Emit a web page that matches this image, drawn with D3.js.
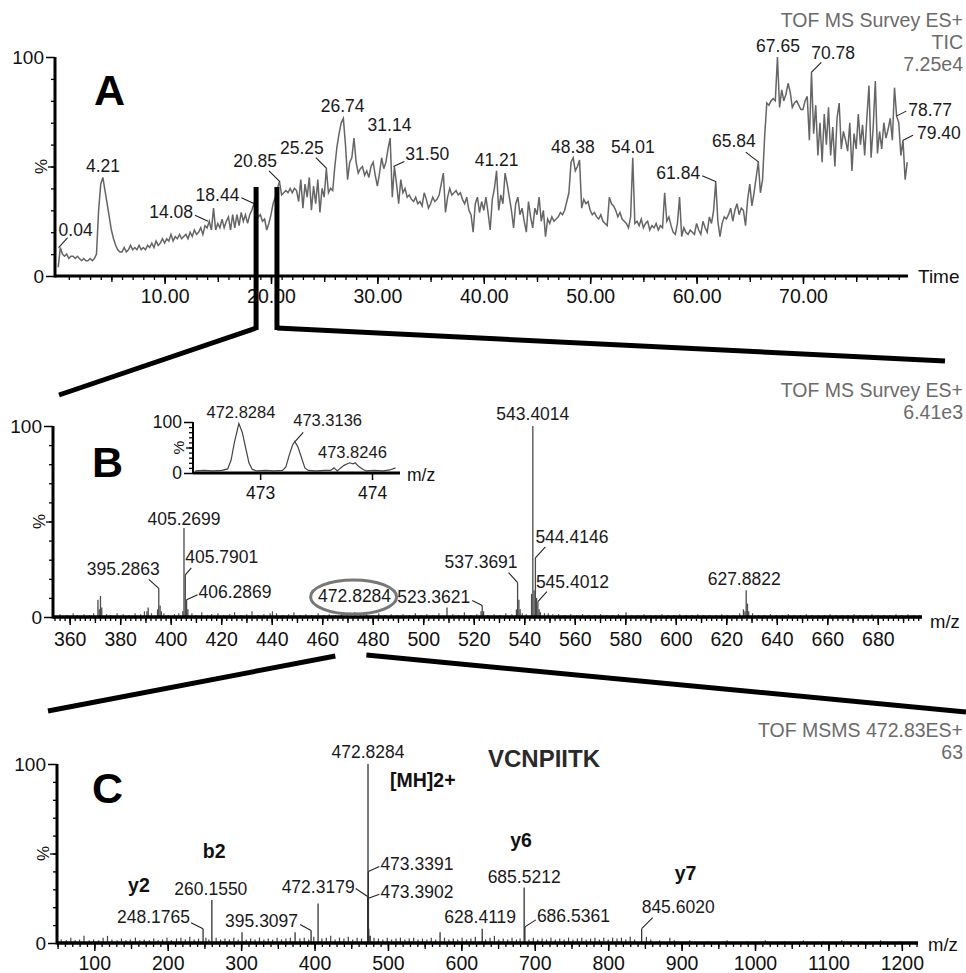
<!DOCTYPE html>
<html>
<head>
<meta charset="utf-8">
<script src="https://cdn.jsdelivr.net/npm/d3@7"></script>
<style>
  body { margin: 0; background: #fff; }
  svg text { font-family: "Liberation Sans", Arial, sans-serif; }
</style>
</head>
<body>
<div id="chart"></div>
<script>
const width = 966;
const height = 973;
const font = "Liberation Sans, Arial, sans-serif";

// ---------- panel A : TIC, one value every 0.2 min from 0 ----------
const ticStep = 0.2;
const tic = [
  4, 13, 10, 9, 10, 8, 9, 9, 8, 9,
  8, 7, 8, 7, 7, 8, 7, 8, 10, 30,
  42, 45, 39, 33, 27, 21, 17, 14, 12, 11,
  11, 13, 11, 12, 14, 12, 13, 12, 14, 12,
  13, 12, 14, 13, 15, 13, 16, 14, 15, 17,
  15, 17, 16, 19, 16, 18, 17, 19, 17, 18,
  19, 17, 20, 18, 21, 19, 20, 22, 19, 23,
  22, 25, 21, 31, 21, 24, 22, 26, 22, 25,
  27, 21, 28, 22, 28, 23, 29, 25, 28, 24,
  28, 30, 33, 29, 27, 28, 25, 26, 21, 24,
  28, 33, 36, 40, 43, 37, 38, 39, 38, 40,
  38, 40, 39, 34, 44, 31, 42, 36, 45, 30,
  41, 33, 44, 29, 40, 36, 49, 38, 40, 39,
  50, 59, 65, 70, 72, 60, 44, 52, 54, 63,
  52, 47, 49, 50, 46, 48, 45, 50, 52, 46,
  41, 47, 54, 49, 52, 58, 63, 36, 50, 42,
  33, 44, 38, 40, 36, 37, 35, 34, 36, 33,
  34, 32, 38, 35, 31, 33, 36, 34, 35, 37,
  42, 47, 29, 36, 40, 37, 38, 39, 37, 38,
  35, 33, 36, 30, 28, 20, 33, 36, 29, 34,
  30, 36, 29, 21, 35, 40, 48, 30, 37, 33,
  47, 42, 36, 30, 22, 33, 36, 28, 31, 25,
  20, 34, 27, 22, 31, 28, 36, 25, 30, 18,
  26, 24, 27, 25, 26, 27, 29, 28, 30, 34,
  38, 52, 54, 48, 50, 53, 31, 35, 33, 34,
  30, 28, 29, 27, 26, 28, 25, 24, 23, 36,
  33, 32, 30, 27, 29, 26, 25, 24, 22, 27,
  54, 24, 25, 23, 26, 22, 24, 25, 21, 23,
  22, 24, 21, 23, 22, 38, 25, 27, 23, 20,
  19, 24, 36, 18, 22, 20, 19, 21, 20, 19,
  24, 21, 19, 25, 22, 20, 27, 24, 30, 43,
  25, 18, 24, 27, 26, 28, 31, 25, 30, 33,
  28, 31, 30, 23, 35, 42, 32, 38, 45, 52,
  38, 44, 64, 79, 78, 80, 81, 80, 100, 77,
  85, 80, 83, 88, 84, 77, 79, 80, 78, 76,
  76, 80, 82, 62, 93, 65, 78, 55, 70, 52,
  74, 60, 77, 55, 68, 50, 72, 79, 58, 66,
  62, 57, 70, 48, 65, 58, 74, 60, 69, 55,
  72, 87, 54, 68, 89, 56, 66, 58, 70, 63,
  67, 72, 62, 86, 73, 70, 55, 62, 44, 52
];
const labelsA = ["0.04", "4.21", "14.08", "18.44", "20.85", "25.25", "26.74", "31.14", "31.50",
  "41.21", "48.38", "54.01", "61.84", "65.84", "67.65", "70.78", "78.77", "79.40"];
const labelHeightsA = [13, 45, 25, 33, 43, 49, 72, 63, 50, 48, 54, 54, 43, 52, 100, 93, 73, 62];
const timeTicks = [10, 20, 30, 40, 50, 60, 70];
const headerA = ["TOF MS Survey ES+", "TIC", "7.25e4"];

// ---------- panel B : survey scan ----------
const peaksB = [
  [371.2, 9], [371.7, 4], [372.2, 11], [372.7, 5], [390.6, 3], [391.1, 5],
  [394.8, 4], [395.2863, 15], [395.8, 6], [396.3, 3],
  [404.8, 3], [405.2699, 46.6], [405.7901, 22], [406.2869, 9], [406.8, 4],
  [472.8284, 2.5], [473.3, 1.5], [509.4, 5], [522.9, 3], [523.3621, 6], [523.9, 3],
  [536.9, 4], [537.3691, 18], [537.87, 9], [538.37, 4],
  [542.9, 12], [543.4014, 100], [543.9, 14], [544.4146, 31], [544.9, 10], [545.4012, 8], [545.9, 4], [546.4, 2.5],
  [626.8, 4], [627.4, 3], [627.8822, 14], [628.38, 7], [628.88, 3]
];
const noiseB = [
  [356.2, 1.5], [358.9, 1], [361.4, 2], [363.0, 1], [365.7, 1.5], [367.9, 1], [369.5, 2], [374.6, 1.5],
  [376.3, 1], [378.8, 2], [381.2, 1.5], [383.5, 1], [385.9, 2], [388.1, 1.5], [389.6, 3], [392.4, 2],
  [397.3, 2], [399.0, 1], [401.5, 1.5], [403.2, 2], [408.4, 2], [410.1, 1], [412.3, 2.5], [414.6, 1],
  [416.2, 1.5], [418.7, 2], [421.0, 1], [423.4, 1.5], [425.3, 2.5], [427.8, 1], [430.1, 1.5], [432.2, 3],
  [434.6, 1], [436.9, 1.5], [439.4, 2], [440.3, 3], [441.9, 2], [444.5, 1], [446.7, 1.5], [448.8, 2.5],
  [451.2, 1], [453.5, 1.5], [455.9, 1], [458.4, 2], [460.7, 1], [462.8, 1.5], [465.3, 1], [467.6, 2],
  [469.9, 1], [471.3, 1.5], [475.2, 1], [477.6, 1.5], [480.1, 1], [482.4, 2], [484.9, 1], [487.3, 1.5],
  [489.6, 1], [492.0, 1.5], [494.5, 1], [496.9, 2], [499.2, 1], [501.4, 1.5], [503.8, 1], [506.2, 2],
  [511.7, 1.5], [514.0, 1], [516.3, 2.5], [518.9, 1], [521.2, 1.5], [525.6, 1], [528.0, 1.5], [530.4, 1],
  [532.7, 2], [535.1, 1.5], [539.2, 2], [540.8, 1.5], [548.0, 2], [549.5, 2], [551.3, 1.5], [553.6, 1.5],
  [556.0, 1], [558.4, 1.5], [560.8, 1], [563.1, 1.5], [565.5, 1], [567.9, 1], [570.2, 1.5], [572.6, 1],
  [575.0, 1], [577.3, 1.5], [580.3, 2.5], [582.6, 1], [585.0, 1], [587.4, 1.5], [589.8, 1], [592.1, 1],
  [594.5, 1.5], [596.9, 1], [599.2, 1], [601.6, 1.5], [604.0, 1], [606.3, 1], [608.7, 1.5], [611.1, 1],
  [613.4, 1], [615.8, 1], [618.2, 1.5], [620.5, 1], [622.9, 1], [625.3, 2], [630.4, 2], [632.7, 1],
  [635.1, 1], [637.5, 1.5], [639.8, 1], [642.2, 1], [644.6, 1.5], [646.9, 1], [649.3, 1], [651.7, 1.5],
  [654.0, 1], [656.4, 1], [658.8, 1], [661.1, 1.5], [663.5, 1], [665.9, 1], [668.2, 1], [670.6, 1.5],
  [673.0, 1], [675.3, 1], [677.7, 1.5], [680.1, 1], [682.4, 1], [684.8, 1], [687.2, 1.5], [689.5, 1],
  [691.9, 1.5], [694.3, 1], [696.6, 1]
];
const labelsB = ["395.2863", "405.2699", "405.7901", "406.2869", "472.8284", "523.3621",
  "537.3691", "543.4014", "544.4146", "545.4012", "627.8822"];
const labelHeightsB = [15, 46.6, 22, 9, 2.5, 6, 18, 100, 31, 8, 14];
const mzTicksB = [360, 380, 400, 420, 440, 460, 480, 500, 520, 540, 560, 580, 600, 620, 640, 660, 680];
const headerB = ["TOF MS Survey ES+", "6.41e3"];

// inset of B : isotope envelope of 472.83
const insetProfile = [
  [472.42, 4], [472.5, 5], [472.58, 4], [472.66, 5], [472.71, 8], [472.74, 25], [472.77, 60], [472.81, 97],
  [472.84, 80], [472.87, 50], [472.9, 20], [472.93, 7], [472.97, 4], [473.05, 5], [473.12, 4], [473.2, 5],
  [473.23, 12], [473.26, 35], [473.29, 55], [473.31, 62], [473.34, 50], [473.37, 30], [473.4, 10], [473.43, 5],
  [473.5, 4], [473.58, 5], [473.63, 5], [473.66, 10], [473.69, 4], [473.72, 10], [473.75, 15], [473.78, 18],
  [473.8, 20], [473.83, 18], [473.85, 20], [473.88, 13], [473.92, 7], [473.95, 4], [474.02, 5], [474.1, 4],
  [474.16, 6], [474.21, 10]
];
const labelsInset = ["472.8284", "473.3136", "473.8246"];
const labelHeightsInset = [97, 62, 20];
const insetTicks = [473, 474];

// ---------- panel C : MSMS of 472.83 ----------
const peaksC = [
  [248.1765, 8], [260.1550, 24], [301.2, 6], [373.5, 6], [395.3097, 7], [404.8, 22],
  [472.3179, 26], [472.8284, 100], [473.3391, 40], [473.3902, 25], [473.83, 8], [474.3, 4],
  [571.0, 6], [628.4119, 8], [685.5212, 31], [686.5361, 9], [845.6020, 8]
];
const noiseC = [
  [55, 2], [62, 1.5], [68, 3], [74, 1.5], [80, 2], [86, 4], [93, 1.5], [99, 2], [106, 1.5], [112, 3],
  [118, 4], [124, 2], [131, 1.5], [137, 2.5], [143, 1.5], [149, 2], [156, 3], [162, 1.5], [168, 2],
  [175, 1.5], [181, 2.5], [187, 1.5], [193, 2], [199, 3], [205, 1.5], [212, 2.5], [218, 3], [224, 2],
  [230, 3.5], [236, 2], [242, 2.5], [252, 3], [256, 2], [266, 3], [272, 2], [278, 2.5], [284, 2], [290, 3],
  [296, 2], [307, 2], [313, 2.5], [319, 2], [325, 3], [331, 2], [337, 2.5], [343, 2], [349, 3], [355, 2],
  [361, 2.5], [367, 3], [380, 2.5], [386, 3], [392, 2], [399, 3.5], [410, 2.5], [416, 3], [422, 4],
  [428, 2], [434, 3], [440, 2.5], [446, 3.5], [452, 2], [458, 3], [464, 2.5], [476, 4], [481, 3],
  [487, 2.5], [493, 2], [499, 3], [505, 2], [511, 2.5], [517, 3], [523, 2], [529, 2.5], [535, 3],
  [541, 2], [547, 2.5], [553, 2], [559, 3], [565, 2], [577, 3], [583, 2], [589, 2.5], [595, 2], [601, 3],
  [607, 2], [613, 2.5], [619, 3.5], [633, 2], [639, 3], [645, 4], [651, 2], [657, 2.5], [663, 2],
  [669, 3], [675, 2], [680, 2.5], [692, 2], [698, 3], [704, 2], [710, 2.5], [716, 2], [722, 3], [728, 2],
  [734, 2.5], [740, 2], [746, 3], [752, 2], [758, 2.5], [764, 3], [770, 2], [776, 2.5], [782, 3],
  [788, 2], [794, 3], [800, 2], [806, 3], [812, 2.5], [818, 3], [824, 2], [830, 3.5], [836, 2],
  [852, 3.5], [858, 2], [870, 1.5], [884, 3], [890, 1.5], [911, 1.5], [936, 1], [962, 1.5], [989, 1],
  [1014, 1.5], [1040, 1], [1066, 1.5], [1093, 1], [1118, 1.5], [1145, 1], [1171, 1.5], [1197, 1]
];
const labelsC = ["248.1765", "260.1550", "395.3097", "472.3179", "472.8284", "473.3391",
  "473.3902", "628.4119", "685.5212", "686.5361", "845.6020"];
const labelHeightsC = [8, 24, 7, 26, 100, 40, 25, 8, 31, 9, 8];
const ionNames = ["y2", "b2", "[MH]2+", "y6", "y7"];
const ionMz = [248.1765, 260.1550, 472.8284, 685.5212, 845.6020];
const mzTicksC = [100, 200, 300, 400, 500, 600, 700, 800, 900, 1000, 1100, 1200];
const headerC = ["TOF MSMS 472.83ES+", "63"];
const peptide = "VCNPIITK";

// ---------- layout (label offsets: dx, dy, anchor, leader dx, leader dy) ----------
const spotA = [
  [0, -12, "start", 9, -10], [0, -5, "middle"], [-15, -3, "end", -13, -6], [-15, -3, "end", -13, -6],
  [-3, -15, "end", -11, -11], [-3, -15, "end", -11, -11], [0, -6, "middle"], [0, -7, "middle"],
  [12, -7, "start", 11, -5], [0, -5, "middle"], [0, -5, "middle"], [0, -5, "middle"],
  [-16, -3, "end", -14, -6], [-3, -15, "end", -13, -10], [0, -5, "middle"], [0, -13, "start", 10, -10],
  [12, 0, "start", 10, -5], [14, -1, "start", 10, -5]
];
const spotB = [
  [1, -13, "end", -10, -9], [0, -3, "middle"], [0, -12, "start", 6, -7], [12, -2, "start", 11, -5],
  [0, -10, "middle"], [-12, -3, "end", -10, -5], [0, -15, "end", -9, -10], [0, -6, "middle"],
  [0, -15, "start", 10, -11], [-2, -14, "start", 9, -10], [-2, -5, "middle"]
];
const spotInset = [[0, -6, "middle"], [-2, -15, "start", 8, -9], [0, -5, "middle"]];
const spotC = [
  [-13, -6, "end", -12, -6], [-1, -5, "middle"], [-13, -3.5, "end", -11, -6], [-13, -3, "end", -12, -8],
  [0, -6, "middle"], [12, -1, "start", 11, -5], [12, 0, "start", 11, -4], [-2, -6, "middle"],
  [0, -5, "middle"], [12, -5, "start", 11, -7], [0, -16, "start", 11, -11]
];
const ionSpot = [[-75, -51], [-9, -85], [22, -156], [-14, -96], [33, -63]];

const svg = d3.select("#chart")
  .append("svg")
  .attr("width", width)
  .attr("height", height)
  .style("background", "#fff");

// scales
const xA = d3.scaleLinear().domain([-0.3, 79.87]).range([55, 908]);
const yA = d3.scaleLinear().domain([0, 100]).range([276, 57]);
const xB = d3.scaleLinear().domain([353.4, 697.5]).range([53, 922]);
const yB = d3.scaleLinear().domain([0, 100]).range([617, 426]);
const xI = d3.scaleLinear().domain([472.40, 474.25]).range([193, 400]);
const yI = d3.scaleLinear().domain([0, 100]).range([473, 422]);
const xC = d3.scaleLinear().domain([49.2, 1222]).range([57, 918]);
const yC = d3.scaleLinear().domain([0, 100]).range([943, 764]);

// tick marks only (no labels, no domain line)
function tickMarks(g, axis, size) {
  g.append("g")
    .call(axis.tickSize(size).tickFormat("").tickSizeOuter(0))
    .call(a => a.select(".domain").remove())
    .selectAll("line").attr("stroke", "#000").attr("stroke-width", 1.3);
}

function xAxis(x, y0, minor, mid, major, fmt, labelY, size, lw) {
  const g = svg.append("g").attr("transform", `translate(0,${y0})`);
  tickMarks(g, d3.axisBottom(x).tickValues(minor), 4);
  tickMarks(g, d3.axisBottom(x).tickValues(mid), 6);
  g.append("g")
    .call(d3.axisBottom(x).tickValues(major).tickSize(8).tickFormat(fmt).tickSizeOuter(0))
    .call(a => a.select(".domain").remove())
    .call(a => a.selectAll("line").attr("stroke-width", 1.5))
    .call(a => a.selectAll("text")
      .attr("y", labelY).attr("dy", null)
      .attr("font-size", size).attr("font-family", font).attr("fill", "#111"));
  g.append("line")
    .attr("x1", x.range()[0]).attr("x2", x.range()[1])
    .attr("stroke", "#000").attr("stroke-width", lw);
  return g;
}

function yAxis(y, x0, size, lw) {
  const g = svg.append("g").attr("transform", `translate(${x0},0)`);
  tickMarks(g, d3.axisLeft(y).tickValues(d3.range(10, 100, 10)), 4);
  tickMarks(g, d3.axisLeft(y).tickValues([50]), 7);
  g.append("g")
    .call(d3.axisLeft(y).tickValues([0, 100]).tickSize(9).tickPadding(2).tickSizeOuter(0))
    .call(a => a.select(".domain").remove())
    .call(a => a.selectAll("line").attr("stroke-width", 1.5))
    .call(a => a.selectAll("text")
      .attr("font-size", size).attr("font-family", font).attr("fill", "#111"));
  g.append("line")
    .attr("y1", y.range()[0] + lw / 2).attr("y2", y.range()[1])
    .attr("stroke", "#000").attr("stroke-width", lw);
  // the "%" sits on the 50 tick, turned on its side
  g.append("text")
    .attr("transform", `translate(${-14},${y(50)}) rotate(-90)`)
    .attr("text-anchor", "middle")
    .attr("dy", "0.35em")
    .attr("font-size", size - 2)
    .attr("fill", "#111")
    .text("%");
  return g;
}

function peakLabels(xs, ys, texts, heights, spots, size) {
  const g = svg.append("g").attr("font-size", size).attr("fill", "#1a1a1a");
  texts.forEach((t, i) => {
    const px = xs(+t), py = ys(heights[i]);
    const [dx, dy, anchor, lx, ly] = spots[i];
    if (lx || ly) {
      g.append("line")
        .attr("x1", px).attr("y1", py)
        .attr("x2", px + lx).attr("y2", py + ly)
        .attr("stroke", "#222").attr("stroke-width", 1.1);
    }
    g.append("text")
      .attr("x", px + dx).attr("y", py + dy)
      .attr("text-anchor", anchor)
      .text(t);
  });
  return g;
}

function header(lines, y0) {
  lines.forEach((s, i) => {
    svg.append("text")
      .attr("x", 963).attr("y", y0 + i * 22)
      .attr("text-anchor", "end")
      .attr("font-size", 19.5)
      .attr("fill", "#6b6b6b")
      .text(s);
  });
}

function sticks(list, xs, ys, color, w) {
  svg.append("g").selectAll("line")
    .data(list)
    .join("line")
    .attr("x1", d => xs(d[0])).attr("x2", d => xs(d[0]))
    .attr("y1", ys(0)).attr("y2", d => ys(d[1]))
    .attr("stroke", color).attr("stroke-width", w);
}

function panelLetter(s, x, y) {
  svg.append("text").attr("x", x).attr("y", y)
    .attr("font-size", 43).attr("font-weight", "bold").attr("fill", "#000").text(s);
}

// ================= A =================
svg.append("path")
  .datum(tic)
  .attr("fill", "none")
  .attr("stroke", "#656565")
  .attr("stroke-width", 1.5)
  .attr("d", d3.line().x((d, i) => xA(i * ticStep)).y(d => yA(d)));

xAxis(xA, 276, d3.range(1, 80, 1), d3.range(5, 80, 5), timeTicks, d3.format(".2f"), 27, 19.5, 3);
yAxis(yA, 55, 19, 3);
svg.append("text").attr("x", 918).attr("y", 283).attr("font-size", 19).attr("fill", "#111").text("Time");
peakLabels(xA, yA, labelsA, labelHeightsA, spotA, 17.5);
header(headerA, 27);
panelLetter("A", 94, 105);

// zoom window on A and the lines down to B
const win = [18.6, 20.56];
win.forEach(t => {
  svg.append("line")
    .attr("x1", xA(t)).attr("x2", xA(t))
    .attr("y1", 187).attr("y2", 330)
    .attr("stroke", "#000").attr("stroke-width", 5);
});
svg.append("path")
  .attr("d", `M${xA(win[0])},328 L59,395`)
  .attr("stroke", "#000").attr("stroke-width", 5).attr("fill", "none");
svg.append("path")
  .attr("d", `M${xA(win[1])},328 L945,361`)
  .attr("stroke", "#000").attr("stroke-width", 5).attr("fill", "none");

// ================= B =================
sticks(noiseB, xB, yB, "#555", 1.2);
sticks(peaksB, xB, yB, "#4a4a4a", 1.3);
xAxis(xB, 617, d3.range(354, 698, 2), d3.range(360, 698, 10), mzTicksB, d3.format("d"), 29, 19.5, 3.5);
yAxis(yB, 53, 19, 3);
svg.append("text").attr("x", 930).attr("y", 628).attr("font-size", 18.5).attr("fill", "#111").text("m/z");
peakLabels(xB, yB, labelsB, labelHeightsB, spotB, 17.5);
header(headerB, 397);
panelLetter("B", 92, 477);

// circle round the precursor
svg.append("ellipse")
  .attr("cx", xB(472.8284) - 1).attr("cy", 597)
  .attr("rx", 43).attr("ry", 17)
  .attr("fill", "none").attr("stroke", "#777").attr("stroke-width", 3);

// inset
svg.append("path")
  .datum(insetProfile)
  .attr("fill", "none")
  .attr("stroke", "#444")
  .attr("stroke-width", 1.2)
  .attr("d", d3.line().x(d => xI(d[0])).y(d => yI(d[1])));
const gi = svg.append("g").attr("transform", "translate(0,473)");
gi.append("g")
  .call(d3.axisBottom(xI).tickValues(insetTicks).tickSize(7).tickPadding(3).tickFormat(d3.format("d")).tickSizeOuter(0))
  .call(a => a.select(".domain").remove())
  .call(a => a.selectAll("line").attr("stroke-width", 1.5))
  .call(a => a.selectAll("text").attr("y", 26).attr("dy", null)
    .attr("font-size", 17.5).attr("font-family", font).attr("fill", "#111"));
gi.append("line").attr("x1", 193).attr("x2", 400).attr("stroke", "#000").attr("stroke-width", 3);
yAxis(yI, 193, 17.5, 2);
svg.append("text").attr("x", 407).attr("y", 481).attr("font-size", 17.5).attr("fill", "#111").text("m/z");
peakLabels(xI, yI, labelsInset, labelHeightsInset, spotInset, 16.5);

// lines from B down to C
svg.append("path")
  .attr("d", `M${xB(465.2)},656 L48,711`)
  .attr("stroke", "#000").attr("stroke-width", 5).attr("fill", "none");
svg.append("path")
  .attr("d", `M${xB(477.5)},655 L966,712`)
  .attr("stroke", "#000").attr("stroke-width", 5).attr("fill", "none");

// ================= C =================
sticks(noiseC, xC, yC, "#444", 1.2);
sticks(peaksC, xC, yC, "#333", 1.3);
xAxis(xC, 943, d3.range(50, 1222, 10), d3.range(50, 1222, 50), mzTicksC, d3.format("d"), 27, 19.5, 3.5);
yAxis(yC, 57, 19, 3);
svg.append("text").attr("x", 928).attr("y", 951).attr("font-size", 18.5).attr("fill", "#111").text("m/z");
peakLabels(xC, yC, labelsC, labelHeightsC, spotC, 17.5);
header(headerC, 737);
panelLetter("C", 92, 803);

ionNames.forEach((s, i) => {
  svg.append("text")
    .attr("x", xC(ionMz[i]) + ionSpot[i][0])
    .attr("y", yC(0) + ionSpot[i][1])
    .attr("font-family", "Lato, 'Open Sans', sans-serif")
    .attr("font-weight", 700)
    .attr("font-size", 19.5)
    .attr("fill", "#111")
    .text(s);
});
svg.append("text")
  .attr("x", 488).attr("y", 767)
  .attr("font-family", "Lato, 'Open Sans', sans-serif")
  .attr("font-weight", 700)
  .attr("font-size", 24)
  .attr("fill", "#2a2a2a")
  .text(peptide);
</script>
</body>
</html>
